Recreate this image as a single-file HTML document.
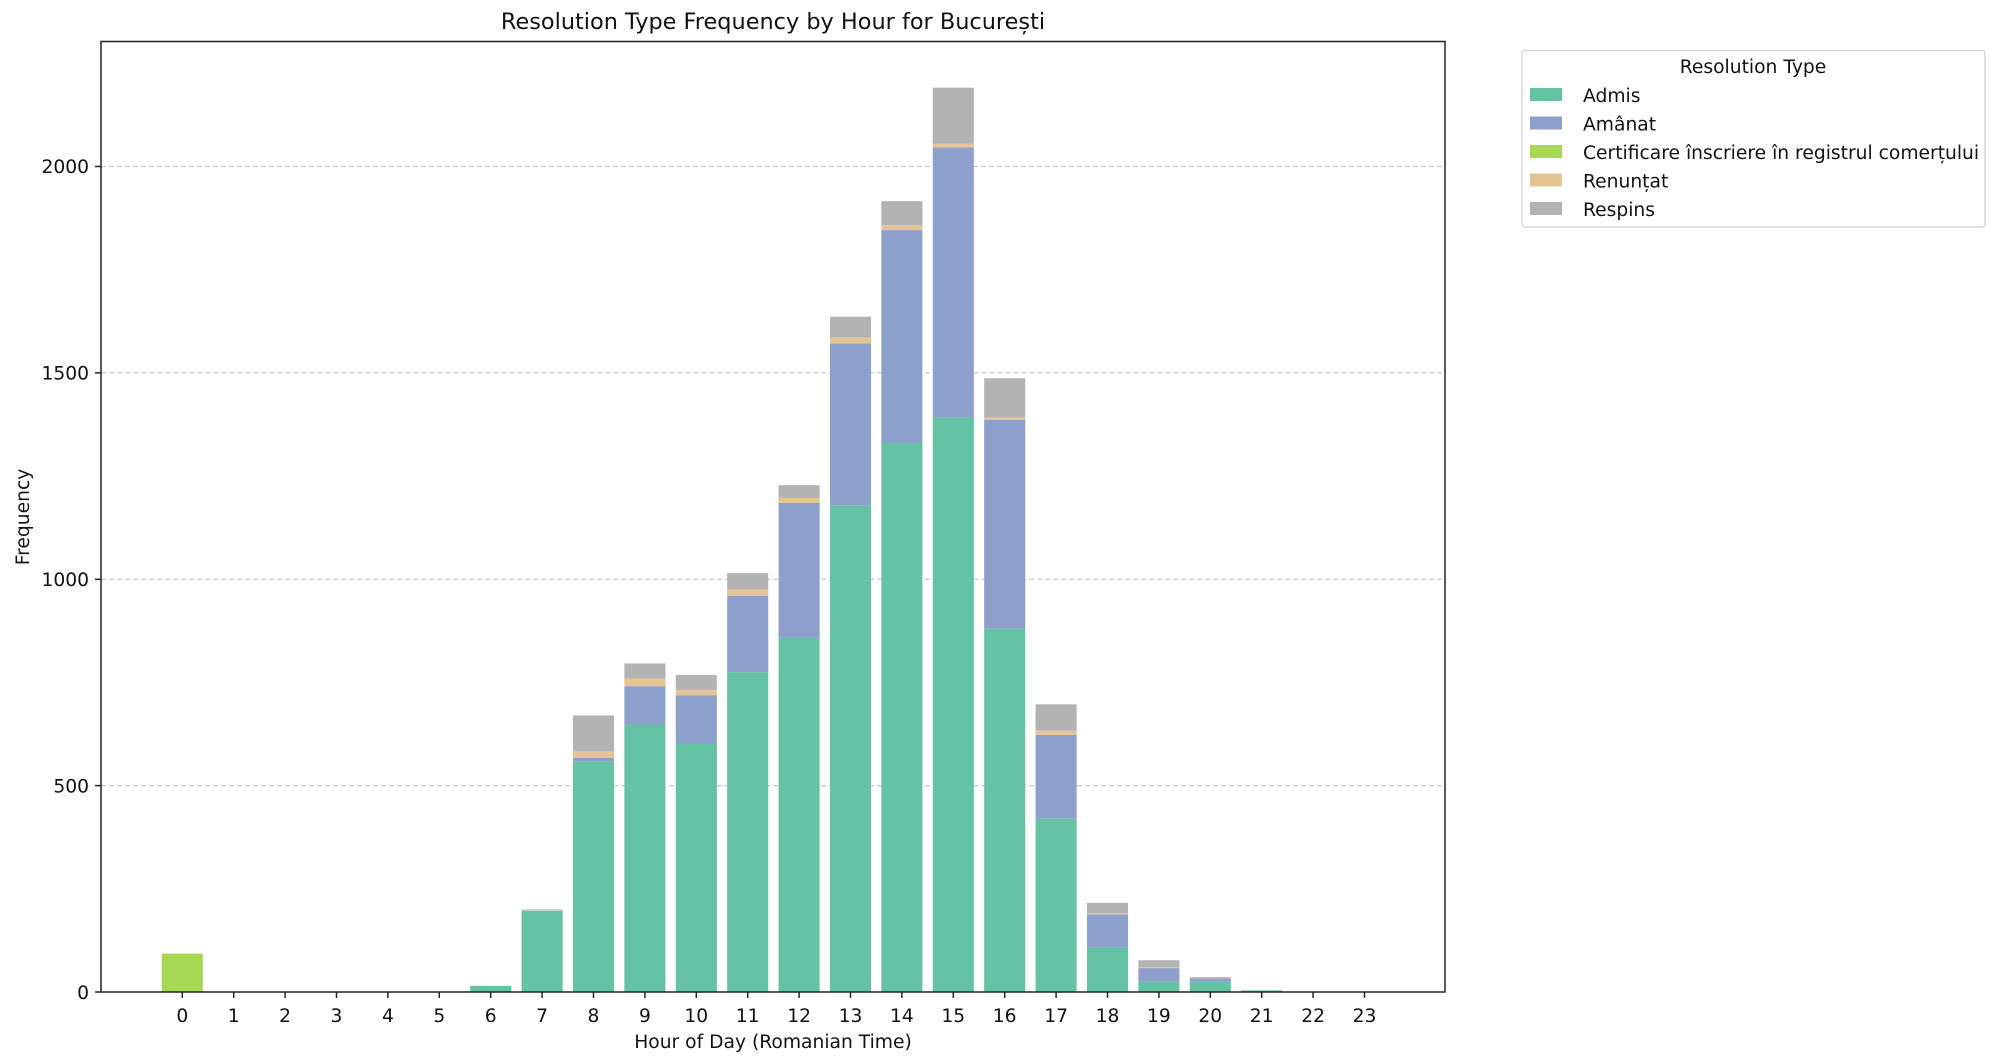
<!DOCTYPE html>
<html><head><meta charset="utf-8"><style>
html,body{margin:0;padding:0;background:#fff;}
svg{display:block;font-family:"DejaVu Sans","Liberation Sans",sans-serif;}
</style></head><body>
<svg id="s" width="2000" height="1064" viewBox="0 0 2000 1064" xmlns="http://www.w3.org/2000/svg">
<rect width="2000" height="1064" fill="#fff"/>
<g stroke="#c8c8c8" stroke-width="1.2" stroke-dasharray="5,3">
<line x1="101" x2="1445" y1="785.6" y2="785.6"/>
<line x1="101" x2="1445" y1="579.3" y2="579.3"/>
<line x1="101" x2="1445" y1="372.9" y2="372.9"/>
<line x1="101" x2="1445" y1="166.5" y2="166.5"/>
</g>
<g id="bars"></g>
<rect x="101" y="41.5" width="1344" height="950.5" fill="none" stroke="#222" stroke-width="1.5"/>
<g stroke="#222" stroke-width="1.5">
<line x1="95" x2="101" y1="992" y2="992"/><line x1="95" x2="101" y1="785.6" y2="785.6"/>
<line x1="95" x2="101" y1="579.3" y2="579.3"/><line x1="95" x2="101" y1="372.9" y2="372.9"/>
<line x1="95" x2="101" y1="166.5" y2="166.5"/>
</g>
<g id="xt" stroke="#222" stroke-width="1.5"></g>
<g font-size="18.7" fill="#111" text-anchor="end">
<text x="89" y="999">0</text><text x="89" y="792.5">500</text><text x="89" y="586">1000</text>
<text x="89" y="379.5">1500</text><text x="89" y="173">2000</text>
</g>
<g font-size="18.7" fill="#111" text-anchor="middle">
<text x="182.3" y="1022">0</text><text x="233.7" y="1022">1</text><text x="285.1" y="1022">2</text><text x="336.5" y="1022">3</text>
<text x="387.9" y="1022">4</text><text x="439.3" y="1022">5</text><text x="490.7" y="1022">6</text><text x="542.1" y="1022">7</text>
<text x="593.5" y="1022">8</text><text x="644.9" y="1022">9</text><text x="696.3" y="1022">10</text><text x="747.7" y="1022">11</text>
<text x="799.1" y="1022">12</text><text x="850.5" y="1022">13</text><text x="901.9" y="1022">14</text><text x="953.3" y="1022">15</text>
<text x="1004.7" y="1022">16</text><text x="1056.1" y="1022">17</text><text x="1107.5" y="1022">18</text><text x="1158.9" y="1022">19</text>
<text x="1210.3" y="1022">20</text><text x="1261.7" y="1022">21</text><text x="1313.1" y="1022">22</text><text x="1364.5" y="1022">23</text>
<text x="773" y="1048">Hour of Day (Romanian Time)</text>
<text x="773" y="29" font-size="22.4">Resolution Type Frequency by Hour for București</text>
</g>
<text transform="translate(29,517) rotate(-90)" font-size="18.7" fill="#111" text-anchor="middle">Frequency</text>
<rect x="1522" y="50.5" width="463" height="176.5" rx="3" fill="#fff" stroke="#d0d0d0" stroke-width="1.2"/>
<text x="1753" y="73" font-size="18.7" text-anchor="middle" fill="#111">Resolution Type</text>
<g font-size="18.7" fill="#111">
<rect x="1530" y="88" width="32" height="13" fill="#66c2a5"/><text x="1583" y="102">Admis</text>
<rect x="1530" y="116.5" width="32" height="13" fill="#8da0cb"/><text x="1583" y="130.5">Amânat</text>
<rect x="1530" y="145" width="32" height="13" fill="#a6d854"/><text x="1583" y="159">Certificare înscriere în registrul comerțului</text>
<rect x="1530" y="173.5" width="32" height="13" fill="#e5c494"/><text x="1583" y="187.5">Renunțat</text>
<rect x="1530" y="202" width="32" height="13" fill="#b3b3b3"/><text x="1583" y="216">Respins</text>
</g>
</svg>
<script>
var d={0:[0,0,93,0,0],6:[15,0,0,0,0],7:[197,0,0,1,2],8:[559,8,0,16,87],9:[648,93,0,18,37],10:[602,117,0,12,37],
11:[775,185,0,15,40],12:[858,327,0,12,31],13:[1179,392,0,15,50],14:[1330,516,0,12,58],15:[1392,654,0,9,136],
16:[880,506,0,6,95],17:[420,203,0,10,64],18:[108,80,0,3,25],19:[25,33,0,2,17],20:[25,8,0,1,2],21:[4,0,0,0,0]};
var c=["#66c2a5","#8da0cb","#a6d854","#e5c494","#b3b3b3"],s="",t="";
for(var h=0;h<24;h++){var x=182.3+h*51.4;t+='<line x1="'+x+'" x2="'+x+'" y1="992" y2="998"/>';
if(d[h]){var b=0;for(var i=0;i<5;i++){var v=d[h][i];if(!v)continue;var y0=992-b*0.41275,y1=992-(b+v)*0.41275;
s+='<rect x="'+(x-20.55)+'" y="'+y1+'" width="41.1" height="'+(y0-y1)+'" fill="'+c[i]+'"/>';b+=v;}}}
document.getElementById("bars").innerHTML=s;document.getElementById("xt").innerHTML=t;
</script>
</body></html>
